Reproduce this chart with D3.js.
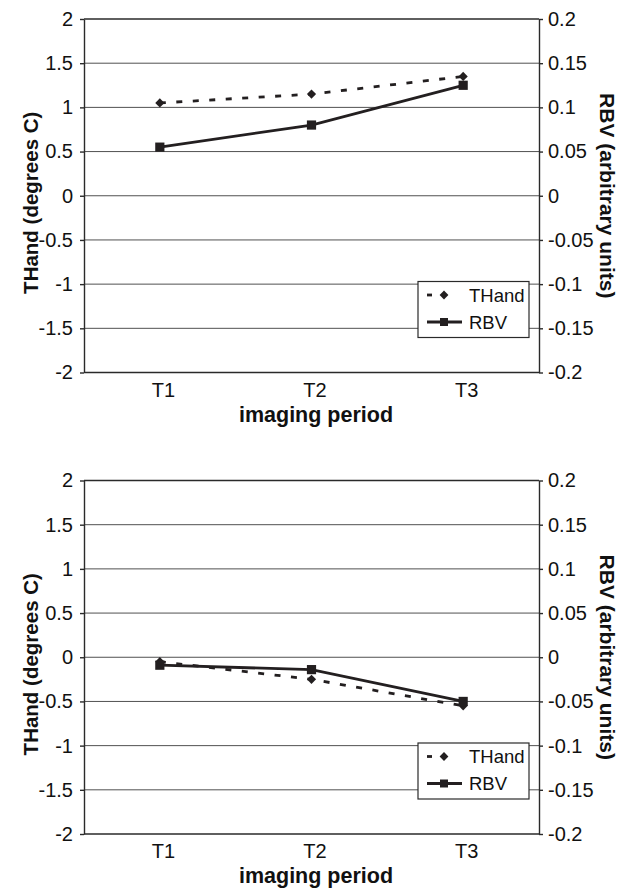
<!DOCTYPE html>
<html>
<head>
<meta charset="utf-8">
<script src="https://cdn.jsdelivr.net/npm/d3@7"></script>
<style>
	body { margin: 0; background: #fff; }
	svg { display: block; font-family: Arial, "Liberation Sans", sans-serif; }
</style>
</head>
<body>
<svg id="chart" width="624" height="892"></svg>
<script>
var categories = ["T1", "T2", "T3"];

// upper panel
var thandTop = [1.05, 1.15, 1.35];
var rbvTop = [0.055, 0.08, 0.125];

// lower panel
var thandBottom = [-0.05, -0.25, -0.55];
var rbvBottom = [-0.009, -0.014, -0.05];

var leftTicks = [-2, -1.5, -1, -0.5, 0, 0.5, 1, 1.5, 2];
var rightTicks = [-0.2, -0.15, -0.1, -0.05, 0, 0.05, 0.1, 0.15, 0.2];

var seriesNames = ["THand", "RBV"];

var ink = "#231f20";
var plotLeft = 84;
var plotRight = 539;
var plotHeight = 353.5;

var svg = d3.select("#chart");

function fmt (v) {
	return String(+v.toFixed(2));
}

function diamondPath (cx, cy, r) {
	return "M" + cx + "," + (cy - r) + "L" + (cx + r) + "," + cy + "L" + cx + "," + (cy + r) + "L" + (cx - r) + "," + cy + "Z";
}

function drawPanel (top, thand, rbv) {
	var g = svg.append("g");

	var x = d3.scalePoint()
		.domain(categories)
		.range([plotLeft, plotRight])
		.padding(0.5);

	var yLeft = d3.scaleLinear()
		.domain([-2, 2])
		.range([top + plotHeight, top]);

	var yRight = d3.scaleLinear()
		.domain([-0.2, 0.2])
		.range([top + plotHeight, top]);

	// gridlines
	g.append("g")
		.selectAll("line")
		.data(leftTicks.slice(1, -1))
		.join("line")
		.attr("x1", plotLeft)
		.attr("x2", plotRight)
		.attr("y1", function (d) { return yLeft(d); })
		.attr("y2", function (d) { return yLeft(d); })
		.attr("stroke", "#505050")
		.attr("stroke-width", 1);

	// left axis
	var leftAxis = g.append("g")
		.attr("transform", "translate(" + plotLeft + ",0)")
		.call(d3.axisLeft(yLeft).tickValues(leftTicks).tickFormat(fmt).tickSize(4).tickSizeOuter(0).tickPadding(7));

	// right axis
	var rightAxis = g.append("g")
		.attr("transform", "translate(" + plotRight + ",0)")
		.call(d3.axisRight(yRight).tickValues(rightTicks).tickFormat(fmt).tickSize(4).tickSizeOuter(0).tickPadding(5));

	[leftAxis, rightAxis].forEach(function (a) {
		a.selectAll("path, line").attr("stroke", "#2a2a2a").attr("stroke-width", 1.4);
		a.selectAll("text").attr("fill", "#111").style("font-size", "20px");
		a.attr("font-family", null);
	});

	// top border and bottom axis line
	g.append("line")
		.attr("x1", plotLeft).attr("x2", plotRight)
		.attr("y1", top).attr("y2", top)
		.attr("stroke", "#2a2a2a").attr("stroke-width", 1.4);

	var bottomAxis = g.append("g")
		.attr("transform", "translate(0," + (top + plotHeight) + ")")
		.call(d3.axisBottom(x).tickSize(0).tickSizeOuter(0).tickPadding(10));

	bottomAxis.select(".domain")
		.attr("d", "M" + plotLeft + ",0H" + plotRight)
		.attr("stroke", "#2a2a2a").attr("stroke-width", 1.4);
	bottomAxis.selectAll("text").attr("fill", "#111").style("font-size", "20px").attr("dx", 3);
	bottomAxis.attr("font-family", null);

	// axis titles
	g.append("text")
		.attr("transform", "translate(38," + (top + plotHeight / 2 + 7) + ") rotate(-90)")
		.attr("text-anchor", "middle")
		.style("font-size", "20.5px")
		.style("font-weight", "bold")
		.attr("fill", "#111")
		.text("THand (degrees C)");

	g.append("text")
		.attr("transform", "translate(600," + (top + plotHeight / 2) + ") rotate(90)")
		.attr("text-anchor", "middle")
		.style("font-size", "21px")
		.style("font-weight", "bold")
		.attr("fill", "#111")
		.text("RBV (arbitrary units)");

	g.append("text")
		.attr("x", 316)
		.attr("y", top + plotHeight + 49)
		.attr("text-anchor", "middle")
		.style("font-size", "21.5px")
		.style("font-weight", "bold")
		.attr("fill", "#111")
		.text("imaging period");

	// series lines
	var thandLine = d3.line()
		.x(function (d, i) { return x(categories[i]); })
		.y(function (d) { return yLeft(d); });

	var rbvLine = d3.line()
		.x(function (d, i) { return x(categories[i]); })
		.y(function (d) { return yRight(d); });

	g.append("path")
		.attr("d", thandLine(thand))
		.attr("fill", "none")
		.attr("stroke", ink)
		.attr("stroke-width", 2.8)
		.attr("stroke-dasharray", "6,10.5");

	g.append("path")
		.attr("d", rbvLine(rbv))
		.attr("fill", "none")
		.attr("stroke", ink)
		.attr("stroke-width", 2.8);

	g.append("g")
		.selectAll("path")
		.data(thand)
		.join("path")
		.attr("d", function (d, i) { return diamondPath(x(categories[i]), yLeft(d), 4.6); })
		.attr("fill", ink);

	g.append("g")
		.selectAll("rect")
		.data(rbv)
		.join("rect")
		.attr("x", function (d, i) { return x(categories[i]) - 4.6; })
		.attr("y", function (d) { return yRight(d) - 4.6; })
		.attr("width", 9.2)
		.attr("height", 9.2)
		.attr("fill", ink);

	// legend
	var lg = g.append("g")
		.attr("transform", "translate(418," + (top + 262.5) + ")");

	lg.append("rect")
		.attr("width", 111)
		.attr("height", 56)
		.attr("fill", "#fff")
		.attr("stroke", "#2a2a2a")
		.attr("stroke-width", 1.2);

	var items = lg.selectAll("g.item")
		.data(seriesNames)
		.join("g")
		.attr("class", "item")
		.attr("transform", function (d, i) { return "translate(0," + (13.5 + i * 27) + ")"; });

	items.append("line")
		.attr("x1", 9)
		.attr("x2", 44)
		.attr("stroke", ink)
		.attr("stroke-width", 2.8)
		.attr("stroke-dasharray", function (d) { return d === "THand" ? "5,40" : null; });

	items.append("path")
		.attr("d", function (d) {
			if (d === "THand") {
				return diamondPath(26, 0, 4.4);
			}
			return "M22,-4H30V4H22Z";
		})
		.attr("fill", ink);

	items.append("text")
		.attr("x", 51)
		.attr("dy", "0.36em")
		.style("font-size", "18.5px")
		.attr("fill", "#111")
		.text(function (d) { return d; });
}

drawPanel(19, thandTop, rbvTop);
drawPanel(480.5, thandBottom, rbvBottom);
</script>
</body>
</html>
